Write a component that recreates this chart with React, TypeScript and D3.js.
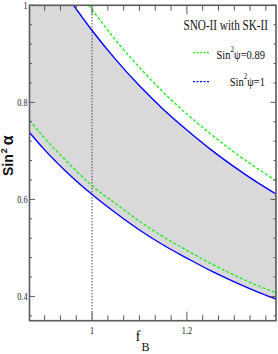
import React from "react";
import * as d3 from "d3";

const xDomain = [0.868, 1.388];
const yDomain = [0.35, 1.0];

const xMajorTicks = [1.0, 1.2];
const xMajorLabels = ["1", "1.2"];
const xMinorTicks = [0.9, 0.9333, 0.9667, 1.0333, 1.0667, 1.1, 1.1333, 1.1667, 1.2333, 1.2667, 1.3, 1.3333, 1.3667];
const yMajorTicks = [0.4, 0.6, 0.8, 1.0];
const yMajorLabels = ["0.4", "0.6", "0.8", "1"];
const yMinorTicks = [0.36, 0.44, 0.48, 0.52, 0.56, 0.64, 0.68, 0.72, 0.76, 0.84, 0.88, 0.92, 0.96];

const blueUpperF = [0.961, 1.0, 1.05, 1.1, 1.15, 1.2, 1.25, 1.3, 1.35, 1.39];
const blueUpperV = [1.0, 0.948, 0.888, 0.834, 0.786, 0.743, 0.703, 0.667, 0.634, 0.61];
const greenUpperF = [0.993, 1.0, 1.05, 1.1, 1.15, 1.2, 1.25, 1.3, 1.35, 1.39];
const greenUpperV = [1.0, 0.991, 0.928, 0.872, 0.821, 0.776, 0.735, 0.697, 0.663, 0.637];
const lowerF = [0.868, 0.9, 0.95, 1.0, 1.05, 1.1, 1.15, 1.2, 1.25, 1.3, 1.35, 1.39];
const blueLowerV = [0.738, 0.702, 0.653, 0.61, 0.572, 0.537, 0.506, 0.479, 0.453, 0.43, 0.409, 0.394];
const greenLowerV = [0.763, 0.726, 0.675, 0.628, 0.591, 0.555, 0.523, 0.495, 0.468, 0.444, 0.422, 0.407];

const refLineF = 1.0;

export default function App() {
  const L = 29.5, R = 276, T = 5.3, B = 320.7;
  const x = d3.scaleLinear().domain(xDomain).range([L, R]);
  const y = d3.scaleLinear().domain(yDomain).range([B, T]);
  const line = d3
    .line<[number, number]>()
    .x((d) => x(d[0]))
    .y((d) => y(d[1]))
    .curve(d3.curveMonotoneX);

  const bu: [number, number][] = blueUpperF.map((f, i) => [f, blueUpperV[i]]);
  const gu: [number, number][] = greenUpperF.map((f, i) => [f, greenUpperV[i]]);
  const bl: [number, number][] = lowerF.map((f, i) => [f, blueLowerV[i]]);
  const gl: [number, number][] = lowerF.map((f, i) => [f, greenLowerV[i]]);

  const upperPath = line(bu) as string;
  const lowerRevPath = line(bl.slice().reverse()) as string;
  const fillPath =
    `M${x(xDomain[0])},${y(yDomain[1])}L` +
    upperPath.slice(1) +
    "L" +
    lowerRevPath.slice(1) +
    "Z";

  const axisColor = "#5a5a5a";
  const serif = "'Liberation Serif', 'DejaVu Serif', serif";
  const green = "#11ee11";

  return (
    <div style={{ position: "absolute", left: 0, top: 0 }}>
      <svg width={278} height={354} style={{ display: "block", background: "#fff" }}>
        <defs>
          <clipPath id="plot">
            <rect x={L} y={T} width={R - L} height={B - T} />
          </clipPath>
        </defs>
        <g clipPath="url(#plot)">
          <path d={fillPath} fill="#d9d9d9" stroke="none" />
          <line
            x1={x(refLineF)}
            x2={x(refLineF)}
            y1={T}
            y2={B}
            stroke="#000"
            strokeWidth={1}
            strokeDasharray="1,2"
          />
          <path d={line(gu) as string} fill="none" stroke={green} strokeWidth={1.3} strokeDasharray="3,2" />
          <path d={line(gl) as string} fill="none" stroke={green} strokeWidth={1.3} strokeDasharray="3,2" />
          <path d={upperPath} fill="none" stroke="#0000ff" strokeWidth={1.4} />
          <path d={line(bl) as string} fill="none" stroke="#0000ff" strokeWidth={1.4} />
        </g>

        {/* ticks */}
        <g stroke={axisColor} strokeWidth={1}>
          {xMajorTicks.map((t) => (
            <g key={"xM" + t}>
              <line x1={x(t)} x2={x(t)} y1={B} y2={B - 9} />
              <line x1={x(t)} x2={x(t)} y1={T} y2={T + 9} />
            </g>
          ))}
          {xMinorTicks.map((t) => (
            <g key={"xm" + t}>
              <line x1={x(t)} x2={x(t)} y1={B} y2={B - 5.5} />
              <line x1={x(t)} x2={x(t)} y1={T} y2={T + 5.5} />
            </g>
          ))}
          {yMajorTicks.map((t) => (
            <g key={"yM" + t}>
              <line x1={L} x2={L + 5.5} y1={y(t)} y2={y(t)} />
              <line x1={R} x2={R - 5.5} y1={y(t)} y2={y(t)} />
            </g>
          ))}
          {yMinorTicks.map((t) => (
            <g key={"ym" + t}>
              <line x1={L} x2={L + 2.5} y1={y(t)} y2={y(t)} />
              <line x1={R} x2={R - 2.5} y1={y(t)} y2={y(t)} />
            </g>
          ))}
        </g>
        <rect x={L} y={T} width={R - L} height={B - T} fill="none" stroke={axisColor} strokeWidth={1.6} />

        {/* tick labels */}
        <g fontFamily={serif} fontSize={10.5} fill="#222">
          {yMajorTicks.map((t, i) => (
            <text
              key={"yl" + t}
              transform={`translate(27.5,${y(t) + 3.6}) scale(0.78,1)`}
              textAnchor="end"
            >
              {yMajorLabels[i]}
            </text>
          ))}
          {xMajorTicks.map((t, i) => (
            <text
              key={"xl" + t}
              transform={`translate(${x(t)},333.5) scale(0.78,1)`}
              textAnchor="middle"
            >
              {xMajorLabels[i]}
            </text>
          ))}
        </g>

        {/* axis titles */}
        <text x={135.5} y={341} fontFamily={serif} fontSize={15} fill="#111">
          f
          <tspan fontSize={12} dy={10} dx={1}>B</tspan>
        </text>
        <text
          transform="translate(12.5,176) rotate(-90)"
          fontFamily="'Liberation Sans', Arial, sans-serif"
          fontWeight="bold"
          fontSize={14}
          fill="#111"
        >
          Sin
          <tspan fontSize={9} dy={-6} dx={1}>2</tspan>
          <tspan fontSize={16} dy={6} dx={3}>α</tspan>
        </text>

        {/* legend */}
        <g fontFamily={serif} fill="#111">
          <text transform="translate(268,29.5) scale(0.8,1)" fontSize={14} textAnchor="end">
            SNO-II with SK-II
          </text>
          <line x1={193} x2={210} y1={52.7} y2={52.7} stroke={green} strokeWidth={1.2} strokeDasharray="2,1.5" />
          <text transform="translate(265,59) scale(0.78,1)" fontSize={13.5} textAnchor="end">
            Sin
            <tspan fontSize={9} dy={-7}>2</tspan>
            <tspan dy={7}>ψ=0.89</tspan>
          </text>
          <line x1={193} x2={210} y1={81.7} y2={81.7} stroke="#0000ff" strokeWidth={1.2} strokeDasharray="2,1.5" />
          <text transform="translate(265,86) scale(0.78,1)" fontSize={13.5} textAnchor="end">
            Sin
            <tspan fontSize={9} dy={-7}>2</tspan>
            <tspan dy={7}>ψ=1</tspan>
          </text>
        </g>
      </svg>
    </div>
  );
}
